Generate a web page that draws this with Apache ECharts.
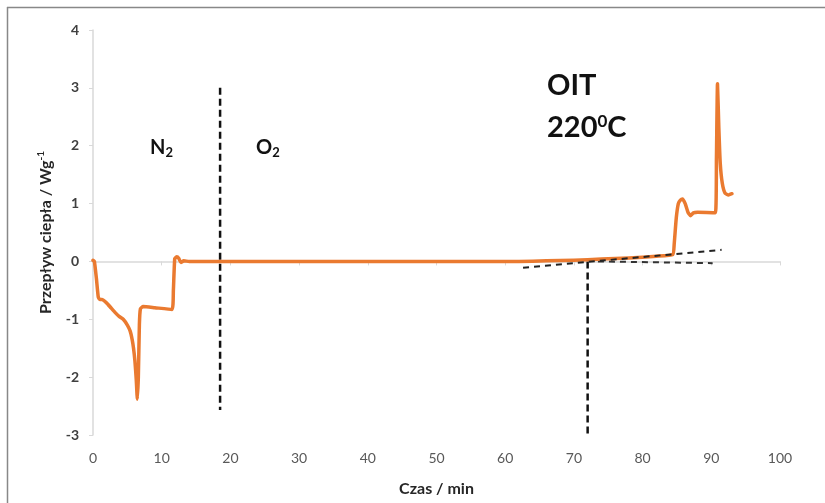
<!DOCTYPE html>
<html>
<head>
<meta charset="utf-8">
<script src="https://cdn.jsdelivr.net/npm/echarts@6/dist/echarts.min.js"></script>
<style>
html,body{margin:0;padding:0;background:#fff;}
#c{width:825px;height:503px;}
</style>
</head>
<body>
<div id="c"></div>
<script>
// Time (min) and heat flow (W/g)
const timeMin = [0, 0.2, 0.5, 0.77, 1.0, 1.3, 2.0, 2.6, 3.2, 3.8, 4.4, 5.0, 5.4, 5.7, 5.9, 6.1, 6.3, 6.45, 6.6, 6.75, 6.9, 7.3, 9.0, 11.5, 11.7, 11.9, 12.2, 12.5, 12.8, 13.2, 14, 20, 30, 40, 50, 60, 62, 66, 70, 74, 78, 82, 84.4, 84.6, 84.9, 85.2, 85.5, 85.8, 86.2, 86.6, 87.0, 87.4, 88, 90.6, 90.75, 90.9, 91.1, 91.3, 91.6, 92.0, 92.5, 93.0];
const heatFlow = [0.02, 0.0, -0.3, -0.62, -0.66, -0.66, -0.72, -0.8, -0.88, -0.95, -1.0, -1.1, -1.2, -1.35, -1.5, -1.72, -2.05, -2.38, -2.0, -1.1, -0.82, -0.78, -0.8, -0.83, -0.5, 0.05, 0.08, 0.05, -0.02, 0.01, 0.0, 0, 0, 0, 0, 0, 0.0, 0.01, 0.02, 0.04, 0.06, 0.09, 0.12, 0.3, 0.75, 1.0, 1.06, 1.08, 1.0, 0.85, 0.79, 0.84, 0.85, 0.84, 1.8, 3.07, 2.3, 1.7, 1.35, 1.18, 1.15, 1.17];

// Gas-switch marker (N2 -> O2)
const switchX = [18.5, 18.5];
const switchY = [3.0, -2.57];
// OIT marker
const oitX = [72.0, 72.0];
const oitY = [0, -3];
// Tangent lines
const tangentX = [62.6, 91.5];
const tangentY = [-0.11, 0.2];
const baseX = [73.5, 90.2];
const baseY = [0.0, -0.03];

const xTicks = [0, 10, 20, 30, 40, 50, 60, 70, 80, 90, 100];
const yTicks = [-3, -2, -1, 0, 1, 2, 3, 4];

const zip = (a, b) => a.map((v, i) => [v, b[i]]);

const chart = echarts.init(document.getElementById('c'), null, {renderer: 'canvas'});
const FONT = 'Lato';
chart.setOption({
  animation: false,
  backgroundColor: '#fff',
  grid: {left: 93, right: 45, top: 30, bottom: 68},
  xAxis: {
    type: 'value', min: xTicks[0], max: xTicks[xTicks.length - 1], interval: 10,
    name: 'Czas / min', nameLocation: 'middle', nameGap: 46,
    nameTextStyle: {fontFamily: FONT, fontWeight: 'bold', fontSize: 16, color: '#262626'},
    axisLine: {lineStyle: {color: '#d9d9d9', width: 1.5}},
    axisTick: {show: true, length: 4, lineStyle: {color: '#d9d9d9'}},
    axisLabel: {fontFamily: FONT, fontSize: 14, color: '#595959', margin: 16},
    splitLine: {show: false}
  },
  yAxis: {
    type: 'value', min: yTicks[0], max: yTicks[yTicks.length - 1], interval: 1,
    name: '{a|Przepływ ciepła / Wg}{s|-1}', nameLocation: 'middle', nameGap: 38, nameRotate: 90,
    nameTextStyle: {
      rich: {
        a: {fontFamily: FONT, fontWeight: 'bold', fontSize: 16, color: '#262626'},
        s: {fontFamily: FONT, fontWeight: 'bold', fontSize: 10, color: '#262626', verticalAlign: 'top', padding: [0, 0, 9, 0]}
      }
    },
    axisLine: {show: true, lineStyle: {color: '#d9d9d9', width: 1.5}},
    axisTick: {show: true, length: 4, lineStyle: {color: '#d9d9d9'}},
    axisLabel: {fontFamily: FONT, fontSize: 14, fontWeight: 'bold', color: '#404040', margin: 14},
    splitLine: {show: false}
  },
  series: [
    {
      type: 'line', data: zip(switchX, switchY), symbol: 'none', silent: true,
      lineStyle: {color: '#111', width: 2.5, type: [7, 4]}
    },
    {
      type: 'line', data: zip(oitX, oitY), symbol: 'none', silent: true,
      lineStyle: {color: '#111', width: 2.5, type: [7, 4]}
    },
    {
      type: 'line', data: zip(baseX, baseY), symbol: 'none', silent: true,
      lineStyle: {color: '#333', width: 2, type: [6, 5]}
    },
    {
      type: 'line', data: zip(timeMin, heatFlow), symbol: 'none', smooth: 0.15,
      lineStyle: {color: '#EA7A30', width: 3.5, cap: 'round', join: 'round'}
    },
    {
      type: 'line', data: zip(tangentX, tangentY), symbol: 'none', silent: true, z: 5,
      lineStyle: {color: '#222', width: 2, type: [6, 5]}
    }
  ],
  graphic: [
    {type: 'line', shape: {x1: 7, y1: 7.5, x2: 825, y2: 7.5}, style: {stroke: '#888', lineWidth: 1.5}},
    {type: 'line', shape: {x1: 7.5, y1: 7, x2: 7.5, y2: 503}, style: {stroke: '#888', lineWidth: 1.5}},
    {type: 'text', left: 150, top: 138, style: {
      text: '{b|N}{s|2}', rich: {
        b: {fontFamily: FONT, fontWeight: 'bold', fontSize: 20, fill: '#111'},
        s: {fontFamily: FONT, fontWeight: 'bold', fontSize: 13, fill: '#111', verticalAlign: 'bottom', padding: [9, 0, 0, 0]}
      }}},
    {type: 'text', left: 256, top: 138, style: {
      text: '{b|O}{s|2}', rich: {
        b: {fontFamily: FONT, fontWeight: 'bold', fontSize: 20, fill: '#111'},
        s: {fontFamily: FONT, fontWeight: 'bold', fontSize: 13, fill: '#111', verticalAlign: 'bottom', padding: [9, 0, 0, 0]}
      }}},
    {type: 'text', left: 547, top: 71, style: {
      text: 'OIT', fontFamily: FONT, fontWeight: 'bold', fontSize: 29, fill: '#111'}},
    {type: 'text', left: 547, top: 113, style: {
      text: '{b|220}{s|0}{b|C}', rich: {
        b: {fontFamily: FONT, fontWeight: 'bold', fontSize: 29, fill: '#111'},
        s: {fontFamily: FONT, fontWeight: 'bold', fontSize: 17, fill: '#111', verticalAlign: 'top', padding: [0, 0, 10, 0]}
      }}}
  ]
});
</script>
</body>
</html>
